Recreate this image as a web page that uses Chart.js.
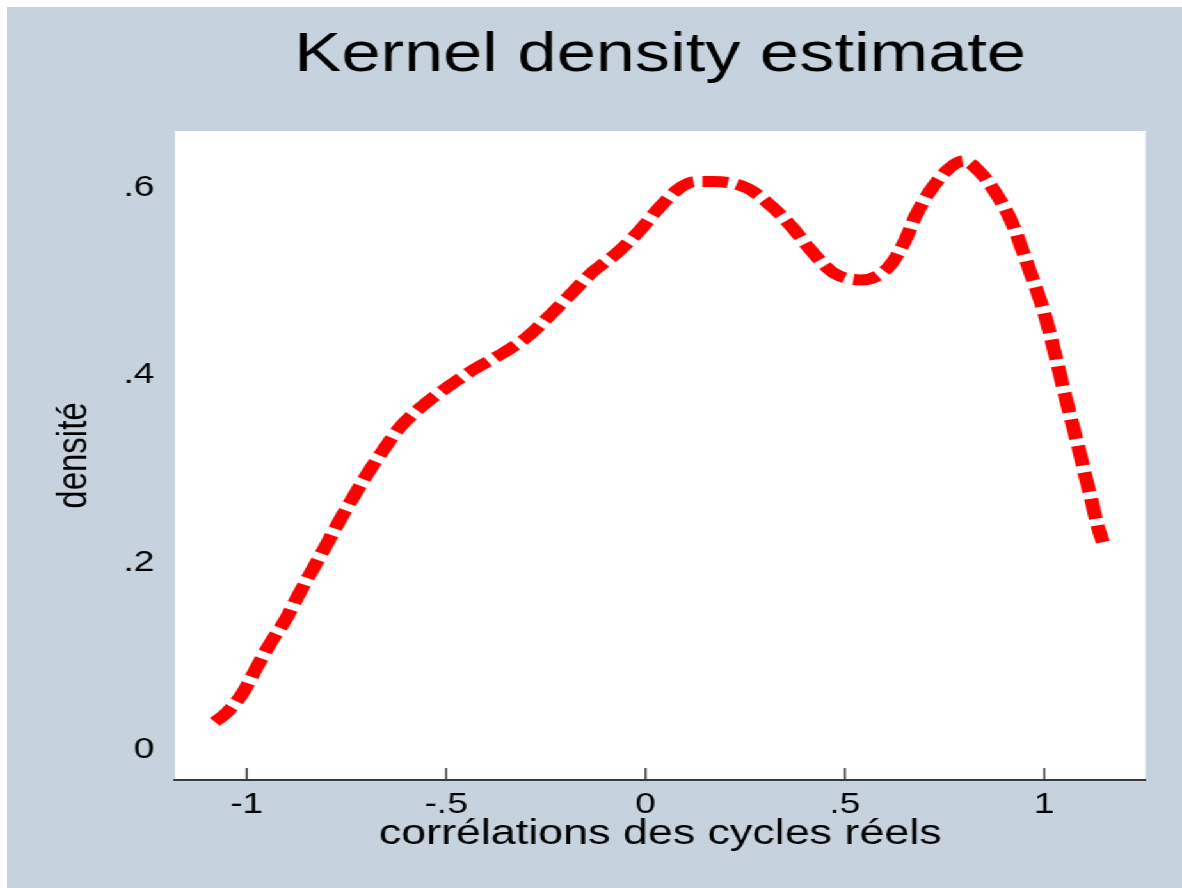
<!DOCTYPE html>
<html>
<head>
<meta charset="utf-8">
<script src="https://cdn.jsdelivr.net/npm/chart.js@4/dist/chart.umd.min.js"></script>
<style>
  html, body { margin: 0; padding: 0; background: #ffffff; }
  /* the source graph is stretched sideways, so the whole panel is scaled in x */
  #panel {
    position: absolute; left: 7px; top: 7px;
    width: 918px; height: 881px;
    background: #c6d3df;
    transform: scaleX(1.28); transform-origin: 0 0;
  }
</style>
</head>
<body>
<div id="panel"><canvas id="kdensity"></canvas></div>
<script>
// x grid of the estimate (correlations) and density
var correlations = [-1.08, -1.05, -1.01, -0.974, -0.941, -0.903, -0.871, -0.836, -0.803, -0.766,
  -0.733, -0.696, -0.658, -0.615, -0.558, -0.495, -0.432, -0.357, -0.297, -0.240,
  -0.185, -0.131, -0.071, -0.014, 0.032, 0.082, 0.125, 0.169, 0.255, 0.315,
  0.366, 0.414, 0.470, 0.540, 0.608, 0.651, 0.677, 0.712, 0.764, 0.798,
  0.841, 0.884, 0.919, 0.945, 0.970, 0.997, 1.014, 1.031, 1.048, 1.065,
  1.083, 1.100, 1.117, 1.134, 1.147];
var density = [0.030, 0.040, 0.061, 0.089, 0.114, 0.139, 0.165, 0.192, 0.217, 0.246,
  0.270, 0.296, 0.320, 0.345, 0.368, 0.388, 0.406, 0.424, 0.441, 0.464,
  0.488, 0.511, 0.531, 0.555, 0.578, 0.599, 0.607, 0.607, 0.600, 0.581,
  0.559, 0.534, 0.510, 0.502, 0.515, 0.544, 0.570, 0.596, 0.622, 0.629,
  0.616, 0.591, 0.563, 0.534, 0.504, 0.471, 0.445, 0.416, 0.386, 0.357,
  0.328, 0.298, 0.269, 0.239, 0.222];

var xTickValues = [-1, -0.5, 0, 0.5, 1];
var xTickLabels = ['-1', '-.5', '0', '.5', '1'];
var yTickValues = [0, 0.2, 0.4, 0.6];
var yTickLabels = ['0', '.2', '.4', '.6'];

var points = [];
for (var i = 0; i < correlations.length; i++) {
  points.push({x: correlations[i], y: density[i]});
}

var FONT = '"Liberation Sans", Arial, sans-serif';

// white plot region + Stata style ticks pointing into the plot
var plotRegion = {
  id: 'plotRegion',
  beforeDraw: function(chart) {
    var a = chart.chartArea, ctx = chart.ctx;
    ctx.save();
    ctx.fillStyle = '#ffffff';
    ctx.fillRect(a.left, a.top, a.right - a.left, a.bottom - a.top);
    ctx.restore();
  },
  afterDraw: function(chart) {
    var sc = chart.scales.x, ctx = chart.ctx;
    ctx.save();
    ctx.strokeStyle = '#3a3a3a';
    ctx.lineWidth = 1.5;
    sc.ticks.forEach(function(t) {
      var px = sc.getPixelForValue(t.value);
      ctx.beginPath();
      ctx.moveTo(px, sc.top);
      ctx.lineTo(px, sc.top - 12);
      ctx.stroke();
    });
    ctx.restore();
  }
};

new Chart(document.getElementById('kdensity'), {
  type: 'line',
  data: {
    datasets: [{
      data: points,
      borderColor: '#ff0000',
      borderWidth: 11,
      borderDash: [20, 7],
      borderCapStyle: 'butt',
      pointRadius: 0,
      cubicInterpolationMode: 'monotone',
      fill: false
    }]
  },
  options: {
    responsive: true,
    maintainAspectRatio: false,
    animation: false,
    events: [],
    layout: { padding: { left: 0, right: 28.5, top: 0, bottom: 0 } },
    plugins: {
      legend: { display: false },
      tooltip: { enabled: false },
      title: {
        display: true,
        text: 'Kernel density estimate',
        color: '#000000',
        fullSize: false,
        font: { family: FONT, size: 55, weight: 'normal', lineHeight: 1.2 },
        padding: { top: 15.5, bottom: 42.5 }
      }
    },
    scales: {
      x: {
        type: 'linear',
        min: -1.18,
        max: 1.254,
        afterBuildTicks: function(s) { s.ticks = xTickValues.map(function(v) { return {value: v}; }); },
        afterFit: function(s) { s.height = 108; },
        grid: { display: false, drawTicks: false },
        border: { display: true, color: '#3a3a3a', width: 2 },
        ticks: {
          autoSkip: false, maxRotation: 0, padding: 7.6,
          color: '#000000',
          font: { family: FONT, size: 29, lineHeight: 1.2 },
          callback: function(v, i) { return xTickLabels[i]; }
        },
        title: {
          display: true,
          text: 'corrélations des cycles réels',
          color: '#000000',
          font: { family: FONT, size: 35, lineHeight: 1.2 },
          padding: { top: 0, bottom: 32.3 }
        }
      },
      y: {
        min: -0.032,
        max: 0.661,
        afterBuildTicks: function(s) { s.ticks = yTickValues.map(function(v) { return {value: v}; }); },
        afterFit: function(s) { s.width = 131.25; },
        grid: { display: false, drawTicks: false },
        border: { display: false },
        ticks: {
          autoSkip: false, padding: 16,
          color: '#000000',
          font: { family: FONT, size: 29, lineHeight: 1.2 },
          callback: function(v, i) { return yTickLabels[i]; }
        },
        title: {
          display: true,
          text: 'densité',
          color: '#000000',
          font: { family: FONT, size: 33, lineHeight: 1.2 },
          padding: { top: 33.3, bottom: 0 }
        }
      }
    }
  },
  plugins: [plotRegion]
});
</script>
</body>
</html>
